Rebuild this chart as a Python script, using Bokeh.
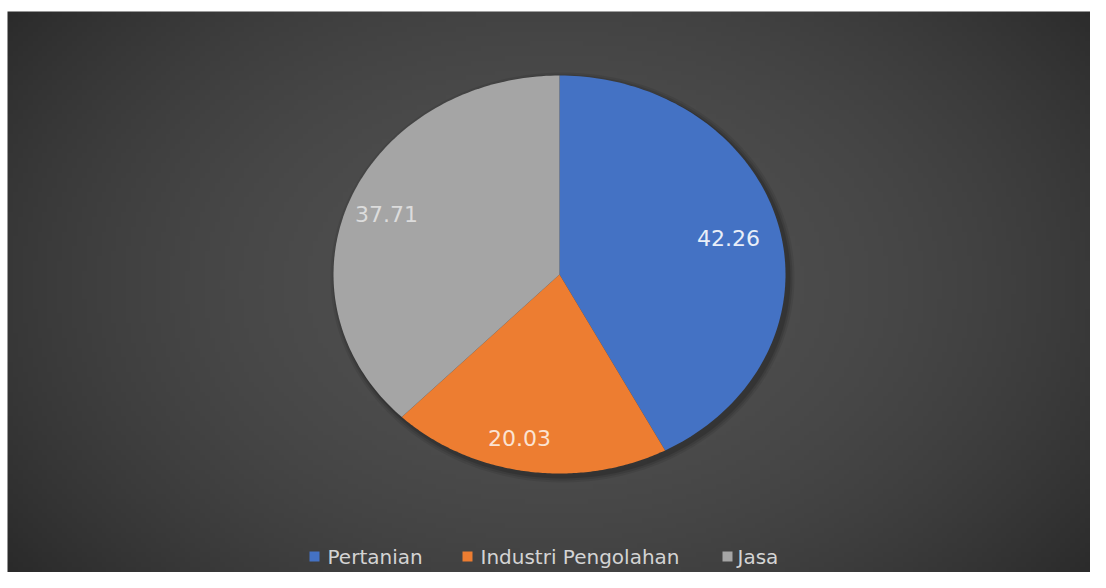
import numpy as np
from bokeh.plotting import figure
from bokeh.models import Range1d
from bokeh.core.properties import value
from bokeh.embed import file_html
from bokeh.resources import INLINE

categories = ["Pertanian", "Industri Pengolahan", "Jasa"]
values = [42.26, 20.03, 37.71]
labels = ["42.26", "20.03", "37.71"]
colors = ["#4472C4", "#ED7D31", "#A5A5A5"]

W, H = 1090, 572


def px(x):
    return x


def py(y):
    return H - y


p = figure(width=W, height=H, output_backend="svg", toolbar_location=None,
           x_range=Range1d(0, W), y_range=Range1d(0, H), min_border=0)
p.axis.visible = False
p.grid.visible = False
p.outline_line_color = None
p.background_fill_color = "white"
p.border_fill_color = "white"

# radial background gradient (dark area starts at x=7, y=11)
x0, ytop = 7, 11
nx, ny = 220, 115
gx = np.linspace(x0, W, nx)
gy = np.linspace(0, H - ytop, ny)
GX, GY = np.meshgrid(gx, gy)
cx0, cy0 = px(555), py(285)
r2 = ((GX - cx0) / 750.0) ** 2 + ((GY - cy0) / 520.0) ** 2
v = np.clip(80 - 45 * r2, 36, 82).astype(np.uint32)
img = (255 << 24) | (v << 16) | (v << 8) | v
p.image_rgba(image=[img.astype(np.uint32)], x=x0, y=0, dw=W - x0, dh=H - ytop)

# pie (slightly elliptical, as in reference)
cx, cy = px(559), py(274)
rx, ry = 226, 199
vals = np.array(values)
cum = np.concatenate([[0], np.cumsum(vals)]) / vals.sum() * 2 * np.pi
xs, ys = [], []
for i in range(len(vals)):
    t = np.linspace(cum[i], cum[i + 1], 120)
    xs.append(np.concatenate([[cx], cx + rx * np.sin(t)]).tolist())
    ys.append(np.concatenate([[cy], cy + ry * np.cos(t)]).tolist())

# soft shadow
for k, a in [(6, 0.08), (4, 0.10), (2, 0.14)]:
    t = np.linspace(0, 2 * np.pi, 200)
    p.patch(cx + 3 + (rx + k) * np.sin(t), cy - 3 + (ry + k) * np.cos(t),
            fill_color="black", fill_alpha=a, line_color=None)

p.patches(xs=xs, ys=ys, fill_color=colors, line_color=None)

# data labels
lab_pos = [(728, 237), (519, 437), (386, 213)]
lab_colors = ["#e8eef8", "#fbe3d2", "#dcdcdc"]
p.text(x=[px(a) for a, b in lab_pos], y=[py(b) for a, b in lab_pos], text=labels,
       text_color=lab_colors, text_font=value("DejaVu Sans"), text_font_size="22px",
       text_align="center", text_baseline="middle")

# legend
sq_x = [314, 467, 727]
tx_x = [327, 480, 737]
ly = 556
p.rect(x=[px(a) for a in sq_x], y=[py(ly)] * 3, width=10, height=10,
       fill_color=colors, line_color=None)
p.text(x=[px(a) for a in tx_x], y=[py(ly)] * 3, text=categories,
       text_color="#d4d4d4", text_font=value("DejaVu Sans"), text_font_size="20px",
       text_align="left", text_baseline="middle")

open("out.html", "w").write(file_html(p, INLINE))
